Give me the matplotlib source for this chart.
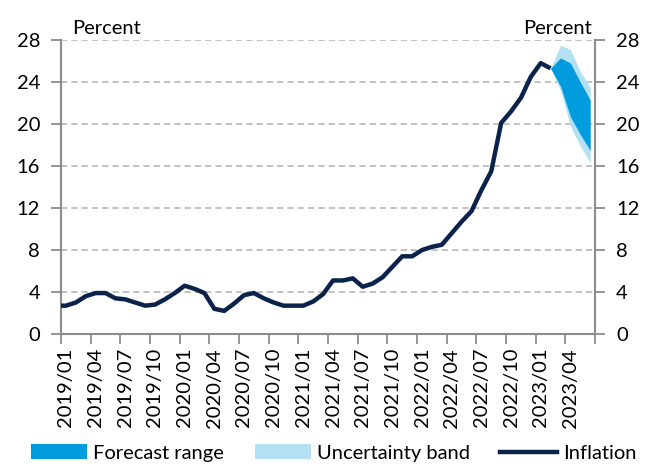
"""
Inflation with forecast range and uncertainty band, monthly 2019-2023.

Creates:
  - out.png
"""

import matplotlib.pyplot as plt
import pandas as pd
from matplotlib.lines import Line2D
from matplotlib.patches import Patch

plt.rcParams["font.family"] = ["Lato", "DejaVu Sans"]

# months of the inflation series (2018/12 is only partly visible, cut by the axis)
MONTHS = pd.period_range("2018-12", "2023-02", freq="M")
INFLATION = [
    2.7,
    2.7, 3.0, 3.6, 3.9, 3.9, 3.4, 3.3, 3.0, 2.7, 2.8, 3.3, 3.9,
    4.6, 4.3, 3.9, 2.4, 2.2, 2.9, 3.7, 3.9, 3.4, 3.0, 2.7, 2.7,
    2.7, 3.1, 3.8, 5.1, 5.1, 5.3, 4.5, 4.8, 5.4, 6.4, 7.4, 7.4,
    8.0, 8.3, 8.5, 9.6, 10.7, 11.7, 13.7, 15.5, 20.1, 21.2, 22.5, 24.5,
    25.8, 25.3,
]

FC_MONTHS = pd.period_range("2023-02", "2023-06", freq="M")
FC_HIGH = [25.3, 26.3, 25.8, 24.0, 22.3]
FC_LOW = [25.3, 23.6, 20.7, 19.0, 17.5]
BAND_HIGH = [25.3, 27.5, 27.1, 25.0, 23.5]
BAND_LOW = [25.3, 23.2, 19.8, 17.9, 16.3]

TICK_LABELS = [
    "2019/01", "2019/04", "2019/07", "2019/10",
    "2020/01", "2020/04", "2020/07", "2020/10",
    "2021/01", "2021/04", "2021/07", "2021/10",
    "2022/01", "2022/04", "2022/07", "2022/10",
    "2023/01", "2023/04",
]
N_SLOTS = 54  # 2019/01 .. 2023/06

NAVY = "#0B234B"
DARK_BLUE = "#009CDD"
LIGHT_BLUE = "#B3E0F3"
GREY = "#8C8C8C"
GRID = "#BDBDBD"
FS = 14.5

START = pd.Period("2019-01", freq="M")


def _pos(periods):
    # category centre of each month on the axis
    return [(p - START).n + 0.5 for p in periods]


def main() -> None:
    fig = plt.figure(figsize=(6.49, 4.68), dpi=100)
    ax = fig.add_axes([0.094, 0.2863, 0.823, 0.6282])

    x_fc = _pos(FC_MONTHS)
    ax.fill_between(x_fc, BAND_LOW, BAND_HIGH, color=LIGHT_BLUE, lw=0, zorder=2)
    ax.fill_between(x_fc, FC_LOW, FC_HIGH, color=DARK_BLUE, lw=0, zorder=3)
    ax.plot(_pos(MONTHS), INFLATION, color=NAVY, lw=3.2, zorder=4,
            solid_joinstyle="round", solid_capstyle="butt")

    ax.set_xlim(0, N_SLOTS)
    ax.set_ylim(0, 28)

    ax.set_yticks(range(0, 29, 4))
    ax.grid(axis="y", color=GRID, lw=1.3, linestyle=(0, (3.5, 2.2)), zorder=1)

    ax.set_xticks(range(0, N_SLOTS + 1, 3))
    ax.set_xticklabels([])
    ax.set_xticks([i + 0.5 for i in range(0, 3 * len(TICK_LABELS), 3)], minor=True)
    ax.set_xticklabels(TICK_LABELS, minor=True, rotation=90, fontsize=FS)

    ax.tick_params(axis="x", which="major", direction="out", length=7, width=1.3, color=GREY)
    ax.tick_params(axis="x", which="minor", length=0, pad=10)
    ax.tick_params(axis="y", direction="out", length=7, width=1.3, color=GREY,
                   labelsize=FS, pad=8, right=True, labelright=True)

    for side in ("left", "right", "bottom"):
        ax.spines[side].set_color(GREY)
        ax.spines[side].set_linewidth(1.5)
    ax.spines["top"].set_visible(False)

    ax.text(0.02, 1.02, "Percent", transform=ax.transAxes, ha="left", va="baseline", fontsize=FS)
    ax.text(0.993, 1.02, "Percent", transform=ax.transAxes, ha="right", va="baseline", fontsize=FS)

    handles = [
        Patch(color=DARK_BLUE, lw=0, label="Forecast range"),
        Patch(color=LIGHT_BLUE, lw=0, label="Uncertainty band"),
        Line2D([], [], color=NAVY, lw=3.2, label="Inflation"),
    ]
    fig.legend(handles=handles, loc="lower center", bbox_to_anchor=(0.514, -0.025),
               ncol=3, frameon=False, fontsize=FS, handlelength=2.8,
               handleheight=0.7, handletextpad=0.3, columnspacing=1.5)

    fig.savefig("out.png", dpi=100)
    plt.close(fig)


if __name__ == "__main__":
    main()
